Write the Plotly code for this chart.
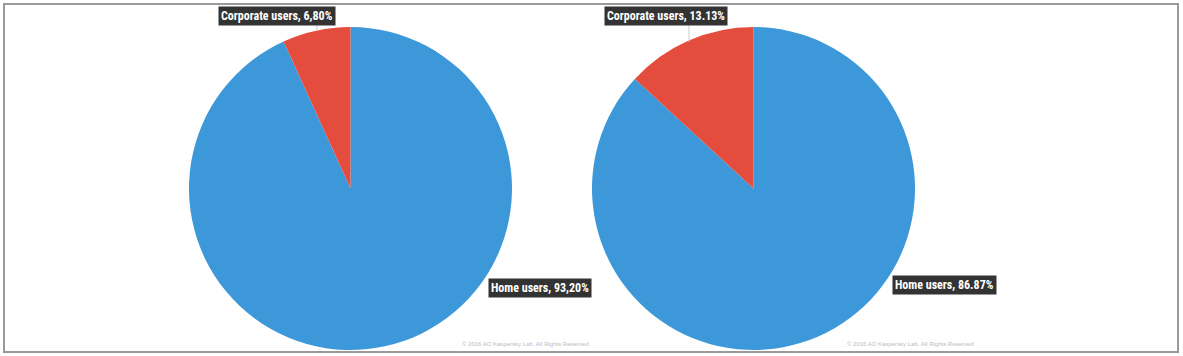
import plotly.graph_objects as go

W, H = 1183, 356
labels = ["Home users", "Corporate users"]
values_2015 = [93.20, 6.80]
values_2016 = [86.87, 13.13]
label_text_left = ["Corporate users, 6,80%", "Home users, 93,20%"]
label_text_right = ["Corporate users, 13.13%", "Home users, 86.87%"]
colors = ["#3d98da", "#e44d3d"]
copyright = "© 2016 AO Kaspersky Lab. All Rights Reserved"

def px(x):
    return x / W

def py(y):
    return 1 - y / H

fig = go.Figure()
fig.add_trace(go.Pie(labels=labels, values=values_2015, sort=False, direction="clockwise",
                     rotation=0, marker=dict(colors=colors), textinfo="none", hoverinfo="label+percent",
                     domain=dict(x=[px(189), px(512)], y=[py(350), py(27)]), showlegend=False))
fig.add_trace(go.Pie(labels=labels, values=values_2016, sort=False, direction="clockwise",
                     rotation=0, marker=dict(colors=colors), textinfo="none", hoverinfo="label+percent",
                     domain=dict(x=[px(592), px(915)], y=[py(350), py(27)]), showlegend=False))

font = dict(family="Liberation Sans Narrow, Roboto Condensed, Arial Narrow, sans-serif", size=12, color="white")
ann = [
    (label_text_left[0], 277, 16),
    (label_text_left[1], 540, 288),
    (label_text_right[0], 666, 16),
    (label_text_right[1], 944, 285),
]
annotations = []
for t, x, y in ann:
    annotations.append(dict(text="<b>" + t + "</b>", x=px(x), y=py(y), xref="paper", yref="paper",
                            showarrow=False, xanchor="center", yanchor="middle", font=font,
                            bgcolor="#333333", borderpad=2))
for x in (525, 910):
    annotations.append(dict(text=copyright, x=px(x), y=py(344), xref="paper", yref="paper",
                            showarrow=False, xanchor="center", yanchor="middle",
                            font=dict(family="Liberation Sans", size=6, color="#bbbbbb")))

shapes = [
    dict(type="rect", xref="paper", yref="paper", x0=px(4), x1=px(1178), y0=py(352), y1=py(4),
         line=dict(color="#9a9a9a", width=2), layer="below"),
    dict(type="line", xref="paper", yref="paper", x0=px(317), x1=px(317), y0=py(24), y1=py(31),
         line=dict(color="#cccccc", width=1)),
    dict(type="line", xref="paper", yref="paper", x0=px(689), x1=px(689), y0=py(25), y1=py(42),
         line=dict(color="#cccccc", width=1)),
]

fig.update_layout(width=W, height=H, margin=dict(l=0, r=0, t=0, b=0),
                  paper_bgcolor="white", plot_bgcolor="white",
                  annotations=annotations, shapes=shapes)
fig.write_html("out.html", config={"displayModeBar": False},
               post_script="document.body.style.margin='0';document.body.style.overflow='hidden';")
